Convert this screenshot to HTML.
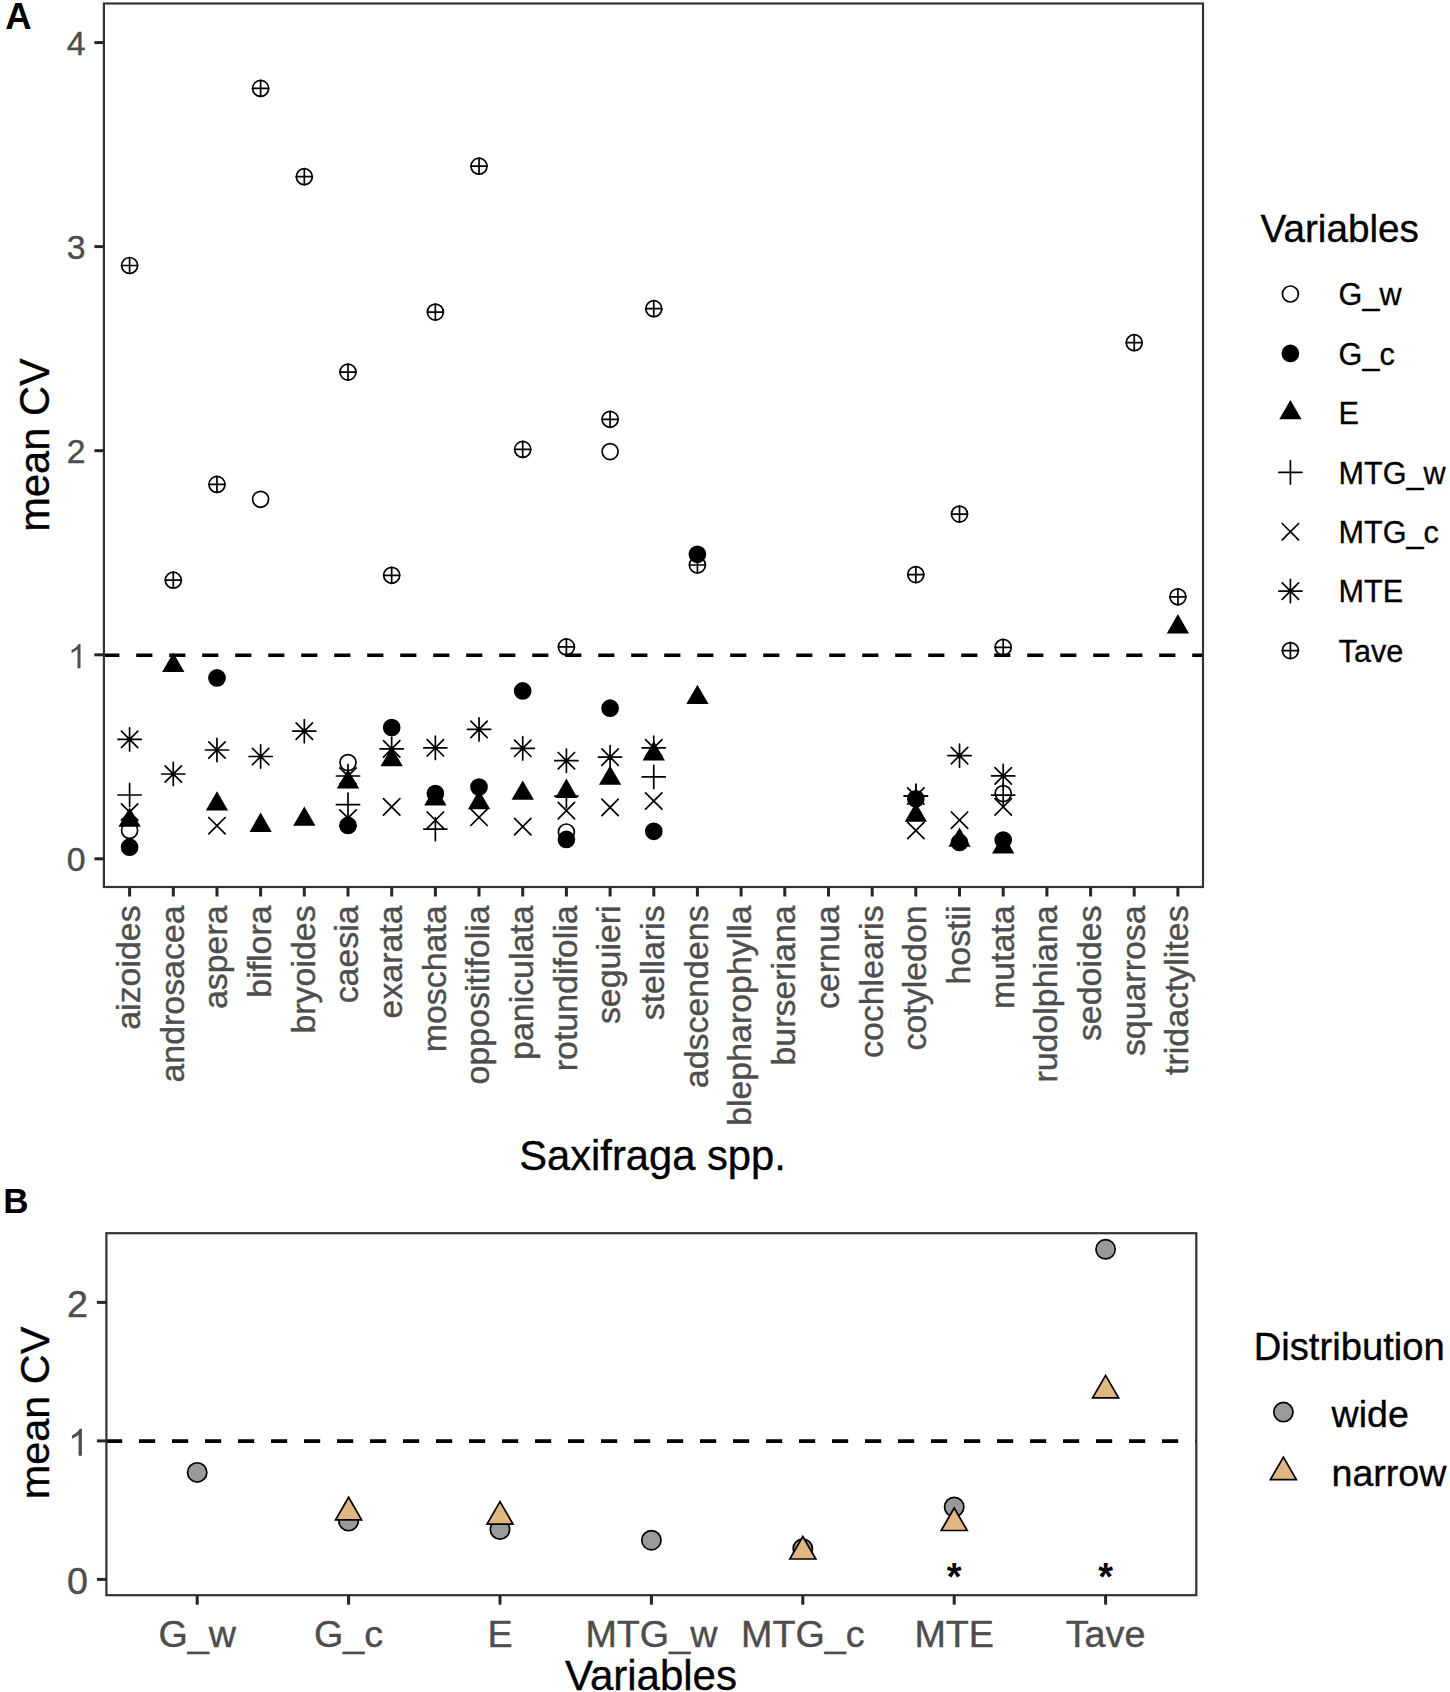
<!DOCTYPE html><html><head><meta charset="utf-8"><style>html,body{margin:0;padding:0;background:#fff;}svg{display:block;}text{font-family:"Liberation Sans",sans-serif;}</style></head><body>
<svg width="1450" height="1692" viewBox="0 0 1450 1692">
<rect x="0" y="0" width="1450" height="1692" fill="#fff"/>
<text x="5.2" y="29" font-size="36.5" font-weight="bold" fill="#000">A</text>
<line x1="103.2" y1="655.3" x2="1203.0" y2="655.3" stroke="#000" stroke-width="3.6" stroke-dasharray="16.2 16.8"/>
<circle cx="129.6" cy="265.5" r="8.00" fill="none" stroke="#000" stroke-width="1.7"/><path d="M121.60 265.50H137.60M129.60 257.50V273.50" stroke="#000" stroke-width="1.7" stroke-linecap="round"/>
<path d="M121.40 731.20L137.80 747.60M121.40 747.60L137.80 731.20M118.00 739.40H141.20M129.60 727.80V751.00" stroke="#000" stroke-width="1.7" stroke-linecap="round"/>
<path d="M118.00 795.00H141.20M129.60 783.40V806.60" stroke="#000" stroke-width="1.7" stroke-linecap="round"/>
<path d="M121.40 803.80L137.80 820.20M121.40 820.20L137.80 803.80" stroke="#000" stroke-width="1.7" stroke-linecap="round"/>
<path d="M129.60 807.49L140.75 826.80L118.45 826.80Z" fill="#000"/>
<circle cx="129.6" cy="830.4" r="8.00" fill="none" stroke="#000" stroke-width="1.7"/>
<circle cx="129.6" cy="847.2" r="8.00" fill="#000" stroke="#000" stroke-width="1.7"/>
<circle cx="173.3" cy="580.2" r="8.00" fill="none" stroke="#000" stroke-width="1.7"/><path d="M165.28 580.20H181.28M173.28 572.20V588.20" stroke="#000" stroke-width="1.7" stroke-linecap="round"/>
<path d="M173.28 652.69L184.43 672.00L162.13 672.00Z" fill="#000"/>
<path d="M165.08 765.80L181.48 782.20M165.08 782.20L181.48 765.80M161.68 774.00H184.88M173.28 762.40V785.60" stroke="#000" stroke-width="1.7" stroke-linecap="round"/>
<circle cx="217.0" cy="484.4" r="8.00" fill="none" stroke="#000" stroke-width="1.7"/><path d="M208.96 484.40H224.96M216.96 476.40V492.40" stroke="#000" stroke-width="1.7" stroke-linecap="round"/>
<circle cx="217.0" cy="677.9" r="8.00" fill="#000" stroke="#000" stroke-width="1.7"/>
<path d="M208.76 741.80L225.16 758.20M208.76 758.20L225.16 741.80M205.36 750.00H228.56M216.96 738.40V761.60" stroke="#000" stroke-width="1.7" stroke-linecap="round"/>
<path d="M216.96 791.19L228.11 810.50L205.81 810.50Z" fill="#000"/>
<path d="M208.76 817.50L225.16 833.90M208.76 833.90L225.16 817.50" stroke="#000" stroke-width="1.7" stroke-linecap="round"/>
<circle cx="260.6" cy="88.4" r="8.00" fill="none" stroke="#000" stroke-width="1.7"/><path d="M252.64 88.40H268.64M260.64 80.40V96.40" stroke="#000" stroke-width="1.7" stroke-linecap="round"/>
<circle cx="260.6" cy="499.3" r="8.00" fill="none" stroke="#000" stroke-width="1.7"/>
<path d="M252.44 748.30L268.84 764.70M252.44 764.70L268.84 748.30M249.04 756.50H272.24M260.64 744.90V768.10" stroke="#000" stroke-width="1.7" stroke-linecap="round"/>
<path d="M260.64 812.59L271.79 831.90L249.49 831.90Z" fill="#000"/>
<circle cx="304.3" cy="176.7" r="8.00" fill="none" stroke="#000" stroke-width="1.7"/><path d="M296.32 176.70H312.32M304.32 168.70V184.70" stroke="#000" stroke-width="1.7" stroke-linecap="round"/>
<path d="M296.12 722.90L312.52 739.30M296.12 739.30L312.52 722.90M292.72 731.10H315.92M304.32 719.50V742.70" stroke="#000" stroke-width="1.7" stroke-linecap="round"/>
<path d="M304.32 806.39L315.47 825.70L293.17 825.70Z" fill="#000"/>
<circle cx="348.0" cy="372.1" r="8.00" fill="none" stroke="#000" stroke-width="1.7"/><path d="M340.00 372.10H356.00M348.00 364.10V380.10" stroke="#000" stroke-width="1.7" stroke-linecap="round"/>
<circle cx="348.0" cy="762.6" r="8.00" fill="none" stroke="#000" stroke-width="1.7"/>
<path d="M339.80 767.80L356.20 784.20M339.80 784.20L356.20 767.80M336.40 776.00H359.60M348.00 764.40V787.60" stroke="#000" stroke-width="1.7" stroke-linecap="round"/>
<path d="M348.00 769.19L359.15 788.50L336.85 788.50Z" fill="#000"/>
<path d="M336.40 804.70H359.60M348.00 793.10V816.30" stroke="#000" stroke-width="1.7" stroke-linecap="round"/>
<path d="M339.80 809.80L356.20 826.20M339.80 826.20L356.20 809.80" stroke="#000" stroke-width="1.7" stroke-linecap="round"/>
<circle cx="348.0" cy="825.4" r="8.00" fill="#000" stroke="#000" stroke-width="1.7"/>
<circle cx="391.7" cy="575.3" r="8.00" fill="none" stroke="#000" stroke-width="1.7"/><path d="M383.68 575.30H399.68M391.68 567.30V583.30" stroke="#000" stroke-width="1.7" stroke-linecap="round"/>
<circle cx="391.7" cy="727.6" r="8.00" fill="#000" stroke="#000" stroke-width="1.7"/>
<path d="M383.48 740.70L399.88 757.10M383.48 757.10L399.88 740.70M380.08 748.90H403.28M391.68 737.30V760.50" stroke="#000" stroke-width="1.7" stroke-linecap="round"/>
<path d="M391.68 746.99L402.83 766.30L380.53 766.30Z" fill="#000"/>
<path d="M383.48 798.70L399.88 815.10M383.48 815.10L399.88 798.70" stroke="#000" stroke-width="1.7" stroke-linecap="round"/>
<circle cx="435.4" cy="312.1" r="8.00" fill="none" stroke="#000" stroke-width="1.7"/><path d="M427.36 312.10H443.36M435.36 304.10V320.10" stroke="#000" stroke-width="1.7" stroke-linecap="round"/>
<path d="M427.16 739.60L443.56 756.00M427.16 756.00L443.56 739.60M423.76 747.80H446.96M435.36 736.20V759.40" stroke="#000" stroke-width="1.7" stroke-linecap="round"/>
<circle cx="435.4" cy="793.6" r="8.00" fill="#000" stroke="#000" stroke-width="1.7"/>
<path d="M435.36 786.19L446.51 805.50L424.21 805.50Z" fill="#000"/>
<path d="M427.16 812.00L443.56 828.40M427.16 828.40L443.56 812.00" stroke="#000" stroke-width="1.7" stroke-linecap="round"/>
<path d="M423.76 829.10H446.96M435.36 817.50V840.70" stroke="#000" stroke-width="1.7" stroke-linecap="round"/>
<circle cx="479.0" cy="166.2" r="8.00" fill="none" stroke="#000" stroke-width="1.7"/><path d="M471.04 166.20H487.04M479.04 158.20V174.20" stroke="#000" stroke-width="1.7" stroke-linecap="round"/>
<path d="M470.84 721.20L487.24 737.60M470.84 737.60L487.24 721.20M467.44 729.40H490.64M479.04 717.80V741.00" stroke="#000" stroke-width="1.7" stroke-linecap="round"/>
<circle cx="479.0" cy="787.0" r="8.00" fill="#000" stroke="#000" stroke-width="1.7"/>
<path d="M479.04 789.89L490.19 809.20L467.89 809.20Z" fill="#000"/>
<path d="M470.84 809.10L487.24 825.50M470.84 825.50L487.24 809.10" stroke="#000" stroke-width="1.7" stroke-linecap="round"/>
<circle cx="522.7" cy="449.4" r="8.00" fill="none" stroke="#000" stroke-width="1.7"/><path d="M514.72 449.40H530.72M522.72 441.40V457.40" stroke="#000" stroke-width="1.7" stroke-linecap="round"/>
<circle cx="522.7" cy="690.9" r="8.00" fill="#000" stroke="#000" stroke-width="1.7"/>
<path d="M514.52 740.10L530.92 756.50M514.52 756.50L530.92 740.10M511.12 748.30H534.32M522.72 736.70V759.90" stroke="#000" stroke-width="1.7" stroke-linecap="round"/>
<path d="M522.72 780.49L533.87 799.80L511.57 799.80Z" fill="#000"/>
<path d="M514.52 818.40L530.92 834.80M514.52 834.80L530.92 818.40" stroke="#000" stroke-width="1.7" stroke-linecap="round"/>
<circle cx="566.4" cy="646.9" r="8.00" fill="none" stroke="#000" stroke-width="1.7"/><path d="M558.40 646.90H574.40M566.40 638.90V654.90" stroke="#000" stroke-width="1.7" stroke-linecap="round"/>
<path d="M558.20 752.50L574.60 768.90M558.20 768.90L574.60 752.50M554.80 760.70H578.00M566.40 749.10V772.30" stroke="#000" stroke-width="1.7" stroke-linecap="round"/>
<path d="M566.40 778.59L577.55 797.90L555.25 797.90Z" fill="#000"/>
<path d="M554.80 796.10H578.00M566.40 784.50V807.70" stroke="#000" stroke-width="1.7" stroke-linecap="round"/>
<path d="M558.20 802.40L574.60 818.80M558.20 818.80L574.60 802.40" stroke="#000" stroke-width="1.7" stroke-linecap="round"/>
<circle cx="566.4" cy="832.0" r="8.00" fill="none" stroke="#000" stroke-width="1.7"/>
<circle cx="566.4" cy="839.4" r="8.00" fill="#000" stroke="#000" stroke-width="1.7"/>
<circle cx="610.1" cy="419.3" r="8.00" fill="none" stroke="#000" stroke-width="1.7"/><path d="M602.08 419.30H618.08M610.08 411.30V427.30" stroke="#000" stroke-width="1.7" stroke-linecap="round"/>
<circle cx="610.1" cy="451.6" r="8.00" fill="none" stroke="#000" stroke-width="1.7"/>
<circle cx="610.1" cy="708.2" r="8.00" fill="#000" stroke="#000" stroke-width="1.7"/>
<path d="M601.88 748.90L618.28 765.30M601.88 765.30L618.28 748.90M598.48 757.10H621.68M610.08 745.50V768.70" stroke="#000" stroke-width="1.7" stroke-linecap="round"/>
<path d="M610.08 765.49L621.23 784.80L598.93 784.80Z" fill="#000"/>
<path d="M601.88 799.20L618.28 815.60M601.88 815.60L618.28 799.20" stroke="#000" stroke-width="1.7" stroke-linecap="round"/>
<circle cx="653.8" cy="308.7" r="8.00" fill="none" stroke="#000" stroke-width="1.7"/><path d="M645.76 308.70H661.76M653.76 300.70V316.70" stroke="#000" stroke-width="1.7" stroke-linecap="round"/>
<path d="M645.56 739.60L661.96 756.00M645.56 756.00L661.96 739.60M642.16 747.80H665.36M653.76 736.20V759.40" stroke="#000" stroke-width="1.7" stroke-linecap="round"/>
<path d="M653.76 741.09L664.91 760.40L642.61 760.40Z" fill="#000"/>
<path d="M642.16 776.90H665.36M653.76 765.30V788.50" stroke="#000" stroke-width="1.7" stroke-linecap="round"/>
<path d="M645.56 792.80L661.96 809.20M645.56 809.20L661.96 792.80" stroke="#000" stroke-width="1.7" stroke-linecap="round"/>
<circle cx="653.8" cy="831.3" r="8.00" fill="#000" stroke="#000" stroke-width="1.7"/>
<circle cx="697.4" cy="554.3" r="8.00" fill="#000" stroke="#000" stroke-width="1.7"/>
<circle cx="697.4" cy="565.0" r="8.00" fill="none" stroke="#000" stroke-width="1.7"/><path d="M689.44 565.00H705.44M697.44 557.00V573.00" stroke="#000" stroke-width="1.7" stroke-linecap="round"/>
<path d="M697.44 684.69L708.59 704.00L686.29 704.00Z" fill="#000"/>
<circle cx="915.8" cy="574.6" r="8.00" fill="none" stroke="#000" stroke-width="1.7"/><path d="M907.84 574.60H923.84M915.84 566.60V582.60" stroke="#000" stroke-width="1.7" stroke-linecap="round"/>
<path d="M907.64 787.80L924.04 804.20M907.64 804.20L924.04 787.80M904.24 796.00H927.44M915.84 784.40V807.60" stroke="#000" stroke-width="1.7" stroke-linecap="round"/>
<path d="M904.24 796.00H927.44M915.84 784.40V807.60" stroke="#000" stroke-width="1.7" stroke-linecap="round"/>
<circle cx="915.8" cy="798.8" r="8.00" fill="#000" stroke="#000" stroke-width="1.7"/>
<path d="M915.84 802.39L926.99 821.70L904.69 821.70Z" fill="#000"/>
<path d="M907.64 822.30L924.04 838.70M907.64 838.70L924.04 822.30" stroke="#000" stroke-width="1.7" stroke-linecap="round"/>
<circle cx="959.5" cy="514.1" r="8.00" fill="none" stroke="#000" stroke-width="1.7"/><path d="M951.52 514.10H967.52M959.52 506.10V522.10" stroke="#000" stroke-width="1.7" stroke-linecap="round"/>
<path d="M951.32 747.40L967.72 763.80M951.32 763.80L967.72 747.40M947.92 755.60H971.12M959.52 744.00V767.20" stroke="#000" stroke-width="1.7" stroke-linecap="round"/>
<path d="M951.32 812.00L967.72 828.40M951.32 828.40L967.72 812.00" stroke="#000" stroke-width="1.7" stroke-linecap="round"/>
<path d="M959.52 827.49L970.67 846.80L948.37 846.80Z" fill="#000"/>
<circle cx="959.5" cy="842.4" r="8.00" fill="#000" stroke="#000" stroke-width="1.7"/>
<circle cx="1003.2" cy="647.3" r="8.00" fill="none" stroke="#000" stroke-width="1.7"/><path d="M995.20 647.30H1011.20M1003.20 639.30V655.30" stroke="#000" stroke-width="1.7" stroke-linecap="round"/>
<path d="M995.00 767.70L1011.40 784.10M995.00 784.10L1011.40 767.70M991.60 775.90H1014.80M1003.20 764.30V787.50" stroke="#000" stroke-width="1.7" stroke-linecap="round"/>
<circle cx="1003.2" cy="793.6" r="8.00" fill="none" stroke="#000" stroke-width="1.7"/>
<path d="M991.60 795.10H1014.80M1003.20 783.50V806.70" stroke="#000" stroke-width="1.7" stroke-linecap="round"/>
<path d="M995.00 798.70L1011.40 815.10M995.00 815.10L1011.40 798.70" stroke="#000" stroke-width="1.7" stroke-linecap="round"/>
<circle cx="1003.2" cy="840.1" r="8.00" fill="#000" stroke="#000" stroke-width="1.7"/>
<path d="M1003.20 834.09L1014.35 853.40L992.05 853.40Z" fill="#000"/>
<circle cx="1134.2" cy="342.7" r="8.00" fill="none" stroke="#000" stroke-width="1.7"/><path d="M1126.24 342.70H1142.24M1134.24 334.70V350.70" stroke="#000" stroke-width="1.7" stroke-linecap="round"/>
<circle cx="1177.9" cy="596.8" r="8.00" fill="none" stroke="#000" stroke-width="1.7"/><path d="M1169.92 596.80H1185.92M1177.92 588.80V604.80" stroke="#000" stroke-width="1.7" stroke-linecap="round"/>
<path d="M1177.92 614.09L1189.07 633.40L1166.77 633.40Z" fill="#000"/>
<rect x="103.9" y="3.5" width="1099.1" height="883.5" fill="none" stroke="#333333" stroke-width="2.2"/>
<line x1="94.4" y1="858.8" x2="103.9" y2="858.8" stroke="#262626" stroke-width="3"/>
<text x="85.5" y="871.3" font-size="33.8" fill="#4D4D4D" stroke="#4D4D4D" stroke-width="0.4" text-anchor="end">0</text>
<line x1="94.4" y1="654.8" x2="103.9" y2="654.8" stroke="#262626" stroke-width="3"/>
<path transform="translate(67.90,668.25) scale(0.01650,-0.01650)" d="M763 0L583 0L583 1147Q518 1085 412 1023Q306 961 223 930L223 1104Q374 1175 487 1276Q600 1377 647 1466L763 1466Z" fill="#4D4D4D"/>
<line x1="94.4" y1="450.7" x2="103.9" y2="450.7" stroke="#262626" stroke-width="3"/>
<text x="85.5" y="463.2" font-size="33.8" fill="#4D4D4D" stroke="#4D4D4D" stroke-width="0.4" text-anchor="end">2</text>
<line x1="94.4" y1="246.6" x2="103.9" y2="246.6" stroke="#262626" stroke-width="3"/>
<text x="85.5" y="259.1" font-size="33.8" fill="#4D4D4D" stroke="#4D4D4D" stroke-width="0.4" text-anchor="end">3</text>
<line x1="94.4" y1="42.6" x2="103.9" y2="42.6" stroke="#262626" stroke-width="3"/>
<text x="85.5" y="55.1" font-size="33.8" fill="#4D4D4D" stroke="#4D4D4D" stroke-width="0.4" text-anchor="end">4</text>
<line x1="129.6" y1="887.0" x2="129.6" y2="896.5" stroke="#262626" stroke-width="3"/>
<text transform="translate(139.9,905.4) rotate(-90)" font-size="33.9" fill="#4D4D4D" stroke="#4D4D4D" stroke-width="0.4" text-anchor="end">aizoides</text>
<line x1="173.3" y1="887.0" x2="173.3" y2="896.5" stroke="#262626" stroke-width="3"/>
<text transform="translate(183.6,905.4) rotate(-90)" font-size="33.9" fill="#4D4D4D" stroke="#4D4D4D" stroke-width="0.4" text-anchor="end">androsacea</text>
<line x1="217.0" y1="887.0" x2="217.0" y2="896.5" stroke="#262626" stroke-width="3"/>
<text transform="translate(227.3,905.4) rotate(-90)" font-size="33.9" fill="#4D4D4D" stroke="#4D4D4D" stroke-width="0.4" text-anchor="end">aspera</text>
<line x1="260.6" y1="887.0" x2="260.6" y2="896.5" stroke="#262626" stroke-width="3"/>
<text transform="translate(270.9,905.4) rotate(-90)" font-size="33.9" fill="#4D4D4D" stroke="#4D4D4D" stroke-width="0.4" text-anchor="end">biflora</text>
<line x1="304.3" y1="887.0" x2="304.3" y2="896.5" stroke="#262626" stroke-width="3"/>
<text transform="translate(314.6,905.4) rotate(-90)" font-size="33.9" fill="#4D4D4D" stroke="#4D4D4D" stroke-width="0.4" text-anchor="end">bryoides</text>
<line x1="348.0" y1="887.0" x2="348.0" y2="896.5" stroke="#262626" stroke-width="3"/>
<text transform="translate(358.3,905.4) rotate(-90)" font-size="33.9" fill="#4D4D4D" stroke="#4D4D4D" stroke-width="0.4" text-anchor="end">caesia</text>
<line x1="391.7" y1="887.0" x2="391.7" y2="896.5" stroke="#262626" stroke-width="3"/>
<text transform="translate(402.0,905.4) rotate(-90)" font-size="33.9" fill="#4D4D4D" stroke="#4D4D4D" stroke-width="0.4" text-anchor="end">exarata</text>
<line x1="435.4" y1="887.0" x2="435.4" y2="896.5" stroke="#262626" stroke-width="3"/>
<text transform="translate(445.7,905.4) rotate(-90)" font-size="33.9" fill="#4D4D4D" stroke="#4D4D4D" stroke-width="0.4" text-anchor="end">moschata</text>
<line x1="479.0" y1="887.0" x2="479.0" y2="896.5" stroke="#262626" stroke-width="3"/>
<text transform="translate(489.3,905.4) rotate(-90)" font-size="33.9" fill="#4D4D4D" stroke="#4D4D4D" stroke-width="0.4" text-anchor="end">oppositifolia</text>
<line x1="522.7" y1="887.0" x2="522.7" y2="896.5" stroke="#262626" stroke-width="3"/>
<text transform="translate(533.0,905.4) rotate(-90)" font-size="33.9" fill="#4D4D4D" stroke="#4D4D4D" stroke-width="0.4" text-anchor="end">paniculata</text>
<line x1="566.4" y1="887.0" x2="566.4" y2="896.5" stroke="#262626" stroke-width="3"/>
<text transform="translate(576.7,905.4) rotate(-90)" font-size="33.9" fill="#4D4D4D" stroke="#4D4D4D" stroke-width="0.4" text-anchor="end">rotundifolia</text>
<line x1="610.1" y1="887.0" x2="610.1" y2="896.5" stroke="#262626" stroke-width="3"/>
<text transform="translate(620.4,905.4) rotate(-90)" font-size="33.9" fill="#4D4D4D" stroke="#4D4D4D" stroke-width="0.4" text-anchor="end">seguieri</text>
<line x1="653.8" y1="887.0" x2="653.8" y2="896.5" stroke="#262626" stroke-width="3"/>
<text transform="translate(664.1,905.4) rotate(-90)" font-size="33.9" fill="#4D4D4D" stroke="#4D4D4D" stroke-width="0.4" text-anchor="end">stellaris</text>
<line x1="697.4" y1="887.0" x2="697.4" y2="896.5" stroke="#262626" stroke-width="3"/>
<text transform="translate(707.7,905.4) rotate(-90)" font-size="33.9" fill="#4D4D4D" stroke="#4D4D4D" stroke-width="0.4" text-anchor="end">adscendens</text>
<line x1="741.1" y1="887.0" x2="741.1" y2="896.5" stroke="#262626" stroke-width="3"/>
<text transform="translate(751.4,905.4) rotate(-90)" font-size="33.9" fill="#4D4D4D" stroke="#4D4D4D" stroke-width="0.4" text-anchor="end">blepharophylla</text>
<line x1="784.8" y1="887.0" x2="784.8" y2="896.5" stroke="#262626" stroke-width="3"/>
<text transform="translate(795.1,905.4) rotate(-90)" font-size="33.9" fill="#4D4D4D" stroke="#4D4D4D" stroke-width="0.4" text-anchor="end">burseriana</text>
<line x1="828.5" y1="887.0" x2="828.5" y2="896.5" stroke="#262626" stroke-width="3"/>
<text transform="translate(838.8,905.4) rotate(-90)" font-size="33.9" fill="#4D4D4D" stroke="#4D4D4D" stroke-width="0.4" text-anchor="end">cernua</text>
<line x1="872.2" y1="887.0" x2="872.2" y2="896.5" stroke="#262626" stroke-width="3"/>
<text transform="translate(882.5,905.4) rotate(-90)" font-size="33.9" fill="#4D4D4D" stroke="#4D4D4D" stroke-width="0.4" text-anchor="end">cochlearis</text>
<line x1="915.8" y1="887.0" x2="915.8" y2="896.5" stroke="#262626" stroke-width="3"/>
<text transform="translate(926.1,905.4) rotate(-90)" font-size="33.9" fill="#4D4D4D" stroke="#4D4D4D" stroke-width="0.4" text-anchor="end">cotyledon</text>
<line x1="959.5" y1="887.0" x2="959.5" y2="896.5" stroke="#262626" stroke-width="3"/>
<text transform="translate(969.8,905.4) rotate(-90)" font-size="33.9" fill="#4D4D4D" stroke="#4D4D4D" stroke-width="0.4" text-anchor="end">hostii</text>
<line x1="1003.2" y1="887.0" x2="1003.2" y2="896.5" stroke="#262626" stroke-width="3"/>
<text transform="translate(1013.5,905.4) rotate(-90)" font-size="33.9" fill="#4D4D4D" stroke="#4D4D4D" stroke-width="0.4" text-anchor="end">mutata</text>
<line x1="1046.9" y1="887.0" x2="1046.9" y2="896.5" stroke="#262626" stroke-width="3"/>
<text transform="translate(1057.2,905.4) rotate(-90)" font-size="33.9" fill="#4D4D4D" stroke="#4D4D4D" stroke-width="0.4" text-anchor="end">rudolphiana</text>
<line x1="1090.6" y1="887.0" x2="1090.6" y2="896.5" stroke="#262626" stroke-width="3"/>
<text transform="translate(1100.9,905.4) rotate(-90)" font-size="33.9" fill="#4D4D4D" stroke="#4D4D4D" stroke-width="0.4" text-anchor="end">sedoides</text>
<line x1="1134.2" y1="887.0" x2="1134.2" y2="896.5" stroke="#262626" stroke-width="3"/>
<text transform="translate(1144.5,905.4) rotate(-90)" font-size="33.9" fill="#4D4D4D" stroke="#4D4D4D" stroke-width="0.4" text-anchor="end">squarrosa</text>
<line x1="1177.9" y1="887.0" x2="1177.9" y2="896.5" stroke="#262626" stroke-width="3"/>
<text transform="translate(1188.2,905.4) rotate(-90)" font-size="33.9" fill="#4D4D4D" stroke="#4D4D4D" stroke-width="0.4" text-anchor="end">tridactylites</text>
<text x="652.5" y="1169.7" font-size="41.7" fill="#000" stroke="#000" stroke-width="0.35" text-anchor="middle">Saxifraga spp.</text>
<text transform="translate(49.4,445) rotate(-90)" font-size="41.6" fill="#000" stroke="#000" stroke-width="0.35" text-anchor="middle">mean CV</text>
<text x="1260.5" y="242.3" font-size="38.7" fill="#000" stroke="#000" stroke-width="0.35">Variables</text>
<circle cx="1290.4" cy="294.0" r="8.00" fill="none" stroke="#000" stroke-width="1.7"/>
<text x="1338.6" y="305.3" font-size="30.6" fill="#000" stroke="#000" stroke-width="0.3">G_w</text>
<circle cx="1290.4" cy="353.4" r="8.00" fill="#000" stroke="#000" stroke-width="1.7"/>
<text x="1338.6" y="364.7" font-size="30.6" fill="#000" stroke="#000" stroke-width="0.3">G_c</text>
<path d="M1290.40 399.98L1301.55 419.30L1279.25 419.30Z" fill="#000"/>
<text x="1338.6" y="424.2" font-size="30.6" fill="#000" stroke="#000" stroke-width="0.3">E</text>
<path d="M1278.80 472.29H1302.00M1290.40 460.69V483.89" stroke="#000" stroke-width="1.7" stroke-linecap="round"/>
<text x="1338.6" y="483.6" font-size="30.6" fill="#000" stroke="#000" stroke-width="0.3">MTG_w</text>
<path d="M1282.20 523.52L1298.60 539.92M1282.20 539.92L1298.60 523.52" stroke="#000" stroke-width="1.7" stroke-linecap="round"/>
<text x="1338.6" y="543.0" font-size="30.6" fill="#000" stroke="#000" stroke-width="0.3">MTG_c</text>
<path d="M1282.20 582.95L1298.60 599.35M1282.20 599.35L1298.60 582.95M1278.80 591.15H1302.00M1290.40 579.55V602.75" stroke="#000" stroke-width="1.7" stroke-linecap="round"/>
<text x="1338.6" y="602.4" font-size="30.6" fill="#000" stroke="#000" stroke-width="0.3">MTE</text>
<circle cx="1290.4" cy="650.6" r="8.00" fill="none" stroke="#000" stroke-width="1.7"/><path d="M1282.40 650.58H1298.40M1290.40 642.58V658.58" stroke="#000" stroke-width="1.7" stroke-linecap="round"/>
<text x="1338.6" y="661.9" font-size="30.6" fill="#000" stroke="#000" stroke-width="0.3">Tave</text>
<text x="3.2" y="1212.8" font-size="35" font-weight="bold" fill="#000">B</text>
<line x1="106.0" y1="1441.1" x2="1196.3" y2="1441.1" stroke="#000" stroke-width="3.6" stroke-dasharray="16.2 16.8"/>
<circle cx="197.2" cy="1472.4" r="9.65" fill="#9a9a9a" stroke="#000" stroke-width="1.7"/>
<circle cx="348.6" cy="1521.1" r="9.65" fill="#9a9a9a" stroke="#000" stroke-width="1.7"/>
<circle cx="500.0" cy="1529.5" r="9.65" fill="#9a9a9a" stroke="#000" stroke-width="1.7"/>
<circle cx="651.4" cy="1540.2" r="9.65" fill="#9a9a9a" stroke="#000" stroke-width="1.7"/>
<circle cx="802.8" cy="1548.7" r="9.65" fill="#9a9a9a" stroke="#000" stroke-width="1.7"/>
<circle cx="954.2" cy="1507.0" r="9.65" fill="#9a9a9a" stroke="#000" stroke-width="1.7"/>
<circle cx="1105.6" cy="1249.3" r="9.65" fill="#9a9a9a" stroke="#000" stroke-width="1.7"/>
<path d="M348.60 1497.29L361.60 1519.80L335.60 1519.80Z" fill="#E0B681" stroke="#000" stroke-width="1.7" stroke-linejoin="miter"/>
<path d="M500.00 1501.59L513.00 1524.10L487.00 1524.10Z" fill="#E0B681" stroke="#000" stroke-width="1.7" stroke-linejoin="miter"/>
<path d="M802.80 1536.49L815.80 1559.00L789.80 1559.00Z" fill="#E0B681" stroke="#000" stroke-width="1.7" stroke-linejoin="miter"/>
<path d="M954.20 1507.99L967.20 1530.50L941.20 1530.50Z" fill="#E0B681" stroke="#000" stroke-width="1.7" stroke-linejoin="miter"/>
<path d="M1105.60 1375.39L1118.60 1397.90L1092.60 1397.90Z" fill="#E0B681" stroke="#000" stroke-width="1.7" stroke-linejoin="miter"/>
<text x="954.2" y="1590" font-size="38" font-weight="bold" fill="#000" text-anchor="middle">*</text>
<text x="1105.6" y="1590" font-size="38" font-weight="bold" fill="#000" text-anchor="middle">*</text>
<rect x="106.4" y="1233.2" width="1089.8999999999999" height="362.0" fill="none" stroke="#333333" stroke-width="2.2"/>
<line x1="96.9" y1="1579.4" x2="106.4" y2="1579.4" stroke="#262626" stroke-width="3"/>
<text x="88" y="1593.8" font-size="37.7" fill="#4D4D4D" stroke="#4D4D4D" stroke-width="0.4" text-anchor="end">0</text>
<line x1="96.9" y1="1440.9" x2="106.4" y2="1440.9" stroke="#262626" stroke-width="3"/>
<path transform="translate(67.83,1455.80) scale(0.01841,-0.01841)" d="M763 0L583 0L583 1147Q518 1085 412 1023Q306 961 223 930L223 1104Q374 1175 487 1276Q600 1377 647 1466L763 1466Z" fill="#4D4D4D"/>
<line x1="96.9" y1="1302.4" x2="106.4" y2="1302.4" stroke="#262626" stroke-width="3"/>
<text x="88" y="1316.8" font-size="37.7" fill="#4D4D4D" stroke="#4D4D4D" stroke-width="0.4" text-anchor="end">2</text>
<line x1="197.2" y1="1595.2" x2="197.2" y2="1604.7" stroke="#262626" stroke-width="3"/>
<text x="197.2" y="1646.5" font-size="37.7" fill="#4D4D4D" stroke="#4D4D4D" stroke-width="0.4" text-anchor="middle">G_w</text>
<line x1="348.6" y1="1595.2" x2="348.6" y2="1604.7" stroke="#262626" stroke-width="3"/>
<text x="348.6" y="1646.5" font-size="37.7" fill="#4D4D4D" stroke="#4D4D4D" stroke-width="0.4" text-anchor="middle">G_c</text>
<line x1="500.0" y1="1595.2" x2="500.0" y2="1604.7" stroke="#262626" stroke-width="3"/>
<text x="500.0" y="1646.5" font-size="37.7" fill="#4D4D4D" stroke="#4D4D4D" stroke-width="0.4" text-anchor="middle">E</text>
<line x1="651.4" y1="1595.2" x2="651.4" y2="1604.7" stroke="#262626" stroke-width="3"/>
<text x="651.4" y="1646.5" font-size="37.7" fill="#4D4D4D" stroke="#4D4D4D" stroke-width="0.4" text-anchor="middle">MTG_w</text>
<line x1="802.8" y1="1595.2" x2="802.8" y2="1604.7" stroke="#262626" stroke-width="3"/>
<text x="802.8" y="1646.5" font-size="37.7" fill="#4D4D4D" stroke="#4D4D4D" stroke-width="0.4" text-anchor="middle">MTG_c</text>
<line x1="954.2" y1="1595.2" x2="954.2" y2="1604.7" stroke="#262626" stroke-width="3"/>
<text x="954.2" y="1646.5" font-size="37.7" fill="#4D4D4D" stroke="#4D4D4D" stroke-width="0.4" text-anchor="middle">MTE</text>
<line x1="1105.6" y1="1595.2" x2="1105.6" y2="1604.7" stroke="#262626" stroke-width="3"/>
<text x="1105.6" y="1646.5" font-size="37.7" fill="#4D4D4D" stroke="#4D4D4D" stroke-width="0.4" text-anchor="middle">Tave</text>
<text x="651" y="1689.7" font-size="42" fill="#000" stroke="#000" stroke-width="0.35" text-anchor="middle">Variables</text>
<text transform="translate(49,1413) rotate(-90)" font-size="41.4" fill="#000" stroke="#000" stroke-width="0.35" text-anchor="middle">mean CV</text>
<text x="1253.7" y="1360" font-size="38.2" fill="#000" stroke="#000" stroke-width="0.35">Distribution</text>
<circle cx="1283.4" cy="1412.1" r="9.65" fill="#9a9a9a" stroke="#000" stroke-width="1.7"/>
<text x="1331.5" y="1426.6" font-size="37.6" fill="#000" stroke="#000" stroke-width="0.35">wide</text>
<path d="M1283.40 1457.09L1296.40 1479.60L1270.40 1479.60Z" fill="#E0B681" stroke="#000" stroke-width="1.7" stroke-linejoin="miter"/>
<text x="1331.5" y="1486" font-size="37.6" fill="#000" stroke="#000" stroke-width="0.35">narrow</text>
</svg></body></html>
